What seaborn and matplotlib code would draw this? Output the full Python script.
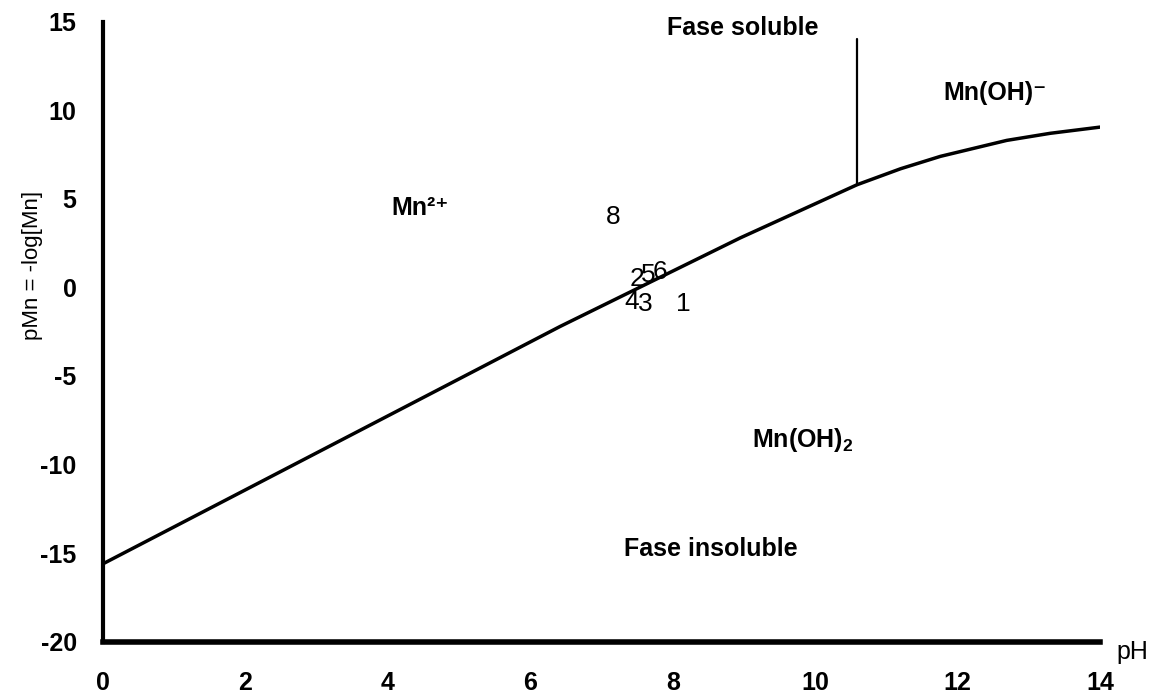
import numpy as np
import pandas as pd
import matplotlib
matplotlib.use("Agg")
import matplotlib.pyplot as plt
import seaborn as sns

# ---- data ----
boundary_ph = [0.0, 6.42, 8.95, 10.59, 11.2, 11.76, 12.69, 13.3, 14.0]
boundary_pmn = [-15.6, -2.2, 2.8, 5.8, 6.7, 7.4, 8.3, 8.7, 9.05]

divider_ph = [10.59, 10.59]
divider_pmn = [5.8, 14.0]

sample_ids = ["8", "2", "5", "6", "4", "3", "1"]
sample_ph = [7.16, 7.50, 7.65, 7.82, 7.42, 7.61, 8.15]
sample_pmn = [4.0, 0.5, 0.69, 0.88, -0.84, -0.94, -0.93]

x_ticks = [0, 2, 4, 6, 8, 10, 12, 14]
y_ticks = [-20, -15, -10, -5, 0, 5, 10, 15]

region_labels = ["Fase soluble", "Fase insoluble", "Mn²⁺", "Mn(OH)⁻", "Mn(OH)$_{2}$"]
region_ph = [8.99, 8.53, 4.45, 12.53, 9.82]
region_pmn = [14.65, -14.77, 4.49, 10.98, -8.61]

# ---- style ----
sns.set_theme(style="white")
plt.rcParams["font.family"] = ["Liberation Sans", "DejaVu Sans"]
plt.rcParams["mathtext.fontset"] = "custom"
plt.rcParams["mathtext.rm"] = "Liberation Sans:bold"
plt.rcParams["mathtext.bf"] = "Liberation Sans:bold"
plt.rcParams["mathtext.default"] = "rm"

fig = plt.figure(figsize=(11.54, 6.96), dpi=100)
ax = fig.add_axes([0.0893, 0.078, 0.9532 - 0.0893, 0.9688 - 0.078])

bdf = pd.DataFrame({"pH": boundary_ph, "pMn": boundary_pmn})
sns.lineplot(data=bdf, x="pH", y="pMn", ax=ax, color="black", linewidth=2.5,
             estimator=None, sort=False)
ddf = pd.DataFrame({"pH": divider_ph, "pMn": divider_pmn})
sns.lineplot(data=ddf, x="pH", y="pMn", ax=ax, color="black", linewidth=1.6,
             estimator=None, sort=False)

for sid, px, py in zip(sample_ids, sample_ph, sample_pmn):
    ax.text(px, py, sid, ha="center", va="center", fontsize=19, color="black")

for lab, px, py in zip(region_labels, region_ph, region_pmn):
    ax.text(px, py, lab, ha="center", va="center", fontsize=18,
            fontweight="bold", color="black", clip_on=False)

ax.set_xlim(0, 14)
ax.set_ylim(-20, 15)
ax.set_xticks(x_ticks)
ax.set_yticks(y_ticks)
ax.set_xticklabels([str(t) for t in x_ticks], fontweight="bold", fontsize=18)
ax.set_yticklabels([str(t) for t in y_ticks], fontweight="bold", fontsize=18)

for s in ["top", "right"]:
    ax.spines[s].set_visible(False)
ax.spines["left"].set_linewidth(3.0)
ax.spines["bottom"].set_linewidth(4.0)
ax.spines["left"].set_color("black")
ax.spines["bottom"].set_color("black")
ax.tick_params(axis="y", direction="out", length=7, width=3, pad=12, colors="black")
ax.tick_params(axis="x", direction="out", length=7, width=3, pad=14, colors="black")

ax.set_xlabel("")
ax.set_ylabel("pMn = -log[Mn]", fontsize=16, color="black")
ax.yaxis.set_label_coords(-0.06, 0.6076)
ax.text(14.45, -20.58, "pH", ha="center", va="center", fontsize=18, color="black",
        clip_on=False)

fig.savefig("out.png", dpi=100)
